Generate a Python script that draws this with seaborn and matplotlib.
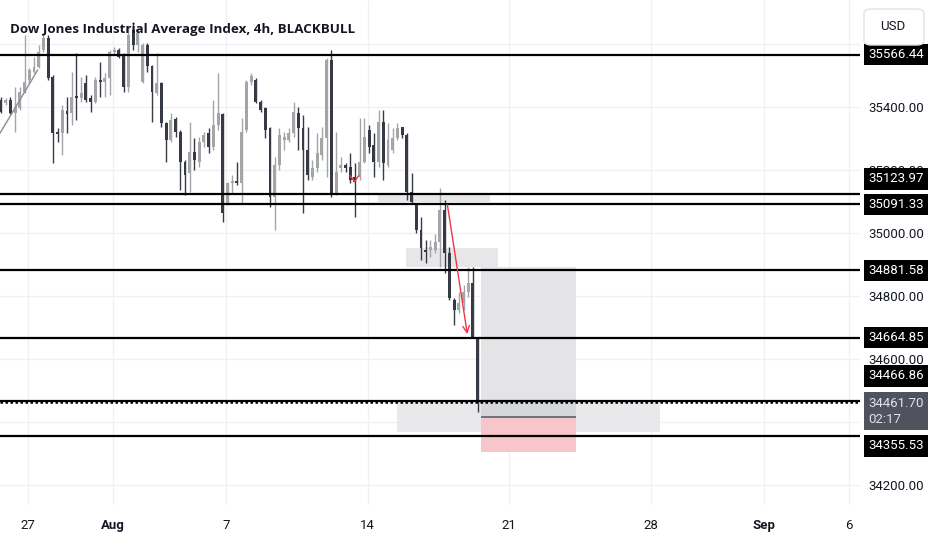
import numpy as np
import pandas as pd
import matplotlib
matplotlib.use("Agg")
import matplotlib.pyplot as plt
import matplotlib.transforms as mtransforms
from matplotlib.patches import Rectangle, FancyBboxPatch
import seaborn as sns

# 4h candles, oldest first
opens = [35422, 35413, 35422, 35381, 35397, 35448, 35486, 35511, 35527, 35581,
         35619, 35495, 35321, 35317, 35387, 35381, 35432, 35429, 35476, 35429,
         35416, 35486, 35479, 35492, 35575, 35581, 35565, 35464, 35644, 35597,
         35479, 35597, 35530, 35444, 35476, 35349, 35295, 35362, 35321, 35225,
         35190, 35257, 35225, 35289, 35317, 35273, 35343, 35378, 35095, 35159,
         35165, 35159, 35327, 35479, 35486, 35416, 35397, 35333, 35114, 35216,
         35295, 35295, 35317, 35381, 35333, 35264, 35178, 35206, 35248, 35302,
         35549, 35127, 35206, 35216, 35210, 35178, 35178, 35225, 35327, 35279,
         35225, 35352, 35216, 35264, 35302, 35337, 35311, 35130, 35089, 35010,
         34946, 34946, 34946, 34971, 35073, 34936, 34787, 34755, 34778, 34813,
         34841, 34665]
highs = [35432, 35429, 35432, 35464, 35464, 35629, 35524, 35559, 35597, 35635,
         35629, 35502, 35333, 35406, 35432, 35511, 35571, 35495, 35502, 35438,
         35495, 35543, 35508, 35581, 35590, 35587, 35571, 35660, 35670, 35644,
         35603, 35603, 35533, 35571, 35479, 35352, 35381, 35368, 35327, 35232,
         35352, 35302, 35305, 35321, 35333, 35422, 35508, 35381, 35162, 35184,
         35225, 35365, 35486, 35508, 35492, 35422, 35400, 35337, 35241, 35333,
         35321, 35333, 35416, 35400, 35375, 35337, 35232, 35317, 35337, 35556,
         35581, 35321, 35241, 35222, 35254, 35222, 35365, 35365, 35343, 35317,
         35390, 35390, 35349, 35333, 35349, 35337, 35317, 35190, 35095, 35051,
         34978, 34978, 34997, 35143, 35105, 34956, 34794, 34813, 34835, 34892,
         34892, 34667]
lows = [35381, 35406, 35378, 35321, 35390, 35444, 35476, 35508, 35524, 35575,
        35486, 35222, 35289, 35248, 35317, 35343, 35359, 35416, 35416, 35384,
        35413, 35432, 35432, 35438, 35565, 35556, 35448, 35448, 35581, 35575,
        35476, 35511, 35352, 35438, 35337, 35225, 35289, 35305, 35137, 35121,
        35130, 35200, 35210, 35273, 35254, 35264, 35327, 35035, 35089, 35127,
        35152, 35095, 35321, 35470, 35413, 35384, 35302, 35082, 35010, 35200,
        35264, 35289, 35305, 35264, 35063, 35168, 35168, 35193, 35232, 35178,
        35114, 35121, 35193, 35193, 35159, 35051, 35168, 35222, 35254, 35178,
        35210, 35168, 35210, 35254, 35295, 35302, 35105, 35095, 35000, 34914,
        34905, 34924, 34936, 34892, 34873, 34787, 34708, 34746, 34755, 34797,
        34667, 34432]
closes = [35384, 35422, 35381, 35400, 35448, 35479, 35518, 35527, 35575, 35619,
          35492, 35317, 35314, 35390, 35378, 35432, 35429, 35444, 35422, 35416,
          35486, 35479, 35492, 35575, 35581, 35559, 35464, 35629, 35597, 35635,
          35597, 35530, 35448, 35476, 35349, 35295, 35359, 35321, 35225, 35184,
          35257, 35232, 35289, 35311, 35273, 35343, 35381, 35063, 35159, 35165,
          35159, 35321, 35479, 35498, 35416, 35390, 35327, 35114, 35216, 35311,
          35305, 35317, 35384, 35333, 35264, 35184, 35206, 35254, 35302, 35549,
          35121, 35193, 35216, 35206, 35168, 35162, 35225, 35305, 35273, 35225,
          35352, 35222, 35295, 35302, 35333, 35311, 35130, 35098, 35010, 34952,
          34940, 34956, 34971, 35073, 34936, 34794, 34755, 34778, 34813, 34841,
          34670, 34461.70]

# horizontal levels drawn on the chart
levels = [35566.44, 35123.97, 35091.33, 34881.58, 34664.85, 34466.86, 34355.53]
last_price = 34461.70
countdown = "02:17"

# x axis (bar index of each date label)
date_ticks = [5.7, 23.7, 47.7, 77.7, 107.7, 137.7, 161.7, 179.7]
date_labels = ["27", "Aug", "7", "14", "21", "28", "Sep", "6"]
# gridlines every 200; 34400 and 35600 sit under the label boxes
price_ticks = [34200, 34400, 34600, 34800, 35000, 35200, 35400, 35600]
price_labels = ["34200.00", "", "34600.00", "34800.00", "35000.00", "35200.00", "35400.00", ""]

# drawings: trend line, arrows, shaded zones (bar index / price)
trend_x = [-0.2, 7.8]
trend_y = [35317, 35518]
arrow_from = (94.5, 35098)
arrow_to = (98.9, 34670)
mark_x = [74.0, 74.9, 75.8]
mark_y = [35182, 35163, 35182]
zones = [  # x0, x1, y0, y1, colour
    (83.9, 139.6, 34368, 34463, "#e9e9eb"),
    (79.9, 103.6, 35098, 35127, "#e7e7e9"),
    (85.8, 105.3, 34892, 34952, "#e7e7e9"),
    (101.7, 121.8, 34467, 34892, "#e4e4e7"),
    (101.7, 121.8, 34416, 34467, "#d5d7dc"),
    (101.7, 121.8, 34305, 34416, "#f6c6cb"),
]
stop_line = 34416

df = pd.DataFrame({"open": opens, "high": highs, "low": lows, "close": closes})
df["x"] = np.arange(len(df))
df["up"] = df["close"] >= df["open"]

sns.set_theme(style="white")
plt.rcParams["font.family"] = ["Roboto", "DejaVu Sans"]

fig = plt.figure(figsize=(9.32, 5.5), dpi=100)
ax = fig.add_axes([0, 45 / 550, 860 / 932, 505 / 550])
ax.set_xlim(-0.2, 182)
ax.set_ylim(34136, 35740)

# grid + axes
ax.set_yticks(price_ticks)
ax.set_yticklabels(price_labels)
ax.set_xticks(date_ticks)
ax.set_xticklabels(date_labels)
ax.grid(True, color="#f0f1f4", lw=1)
for s in ax.spines.values():
    s.set_visible(False)
ax.yaxis.tick_right()
ax.tick_params(axis="y", length=0, pad=6, labelsize=9.5, labelcolor="#131722")
ax.tick_params(axis="x", length=0, pad=10, labelsize=9.5, labelcolor="#131722")
for lab in ax.get_xticklabels():
    if lab.get_text() in ("Aug", "Sep"):
        lab.set_fontweight("bold")

# zones
for x0, x1, y0, y1, col in zones:
    ax.add_patch(Rectangle((x0, y0), x1 - x0, y1 - y0, fc=col, ec="none", zorder=1))
ax.hlines(stop_line, zones[3][0], zones[3][1], color="#5d606b", lw=1.2, zorder=1.5)

# candles
up_col, down_col = "#a5a5a8", "#363a45"
colors = np.where(df["up"], up_col, down_col)
ax.vlines(df["x"], df["low"], df["high"], colors=colors, lw=1, zorder=3)
body_lo = df[["open", "close"]].min(axis=1)
body_h = (df["close"] - df["open"]).abs().clip(lower=6)
ax.bar(df["x"], body_h, bottom=body_lo, width=0.62, color=colors, zorder=3, linewidth=0)

# trend line
sns.lineplot(x=trend_x, y=trend_y, ax=ax, color="#8a8d96", lw=1, zorder=3)

# levels
for lv in levels:
    ax.axhline(lv, color="black", lw=1.6, zorder=4)
ax.axhline(last_price, color="black", lw=1.8, ls=(0, (1, 1)), zorder=4)

# red arrow and small mark
ax.annotate("", xy=arrow_to, xytext=arrow_from,
            arrowprops=dict(arrowstyle="->", color="#f23645", lw=1, mutation_scale=12),
            zorder=5)
ax.plot(mark_x, mark_y, color="#f23645", lw=1, zorder=5)

# price scale labels
trans = mtransforms.blended_transform_factory(ax.transAxes, ax.transData)
label_shift = {35123.97: 15, 34664.85: 1, 34466.86: 25, 34355.53: -10}
for lv in levels:
    ax.annotate(f"{lv:.2f}", xy=(868 / 860, lv), xycoords=trans,
                xytext=(0, label_shift.get(lv, 0)), textcoords="offset pixels",
                ha="left", va="center", fontsize=9.5, color="white",
                bbox=dict(boxstyle="square,pad=0.32", fc="black", ec="none"),
                annotation_clip=False, zorder=6)
ax.annotate(f"{last_price:.2f}\n{countdown}", xy=(868 / 860, last_price), xycoords=trans,
            xytext=(0, -9), textcoords="offset pixels", ha="left", va="center",
            fontsize=9.5, color="#e0e3eb", linespacing=1.35,
            bbox=dict(boxstyle="square,pad=0.32", fc="#50535e", ec="none"),
            annotation_clip=False, zorder=6)

# title and currency box
fig.text(10 / 932, 1 - 30 / 550, "Dow Jones Industrial Average Index, 4h, BLACKBULL",
         ha="left", va="center", fontsize=9.6, fontweight="bold",
         family=["Open Sans", "DejaVu Sans"], color="#131722", zorder=10)
fig.patches.append(FancyBboxPatch((864 / 932, 1 - 45 / 550), 60 / 932, 36 / 550,
                                  boxstyle="round,pad=0,rounding_size=0.008",
                                  transform=fig.transFigure, fc="white", ec="#e0e3eb",
                                  lw=1, zorder=10))
fig.text(893 / 932, 1 - 27 / 550, "USD", ha="center", va="center", fontsize=9.5,
         color="#131722", zorder=11)

fig.savefig("out.png", dpi=100)
